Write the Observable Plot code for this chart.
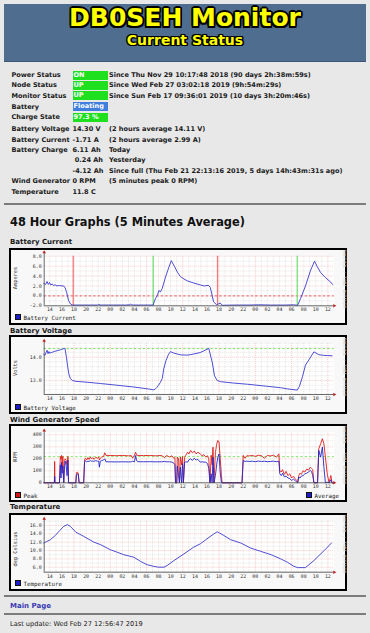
<!DOCTYPE html>
<html><head><meta charset="utf-8">
<script src="https://cdn.jsdelivr.net/npm/d3@7"></script>
<script src="https://cdn.jsdelivr.net/npm/@observablehq/plot@0.6"></script>
<style>
html,body{margin:0;padding:0;}
body{width:370px;height:633px;background:#e8e8e8;position:relative;overflow:hidden;font-family:"DejaVu Sans",sans-serif;color:#1a1a1a;}
.a{position:absolute;white-space:nowrap;}
#banner{left:4px;top:4px;width:362px;height:57px;background:#4f6d8e;border-bottom:1px solid #3d5675;}
.ttl{left:0;width:370px;text-align:center;color:#ffff00;font-weight:bold;line-height:1;}
#t1{top:5px;font-size:25px;text-shadow:-1.5px -1.5px 0 #000,1.5px -1.5px 0 #000,-1.5px 1.5px 0 #000,1.5px 1.5px 0 #000,0 -1.7px 0 #000,0 1.7px 0 #000,-1.7px 0 0 #000,1.7px 0 0 #000;}
#t2{top:33px;font-size:14px;text-shadow:-1.2px -1.2px 0 #000,1.2px -1.2px 0 #000,-1.2px 1.2px 0 #000,1.2px 1.2px 0 #000,0 -1.4px 0 #000,0 1.4px 0 #000,-1.4px 0 0 #000,1.4px 0 0 #000;}
.row{font-size:6.55px;font-weight:bold;height:10px;line-height:10px;}
.badge{height:9px;line-height:9px;width:35px;color:#fff;padding-left:1px;box-sizing:border-box;}
.hr{left:4px;width:362px;height:2px;background:#7c7c7c;}
.lbl{font-size:7px;font-weight:bold;left:10px;line-height:10px;height:10px;}
.box{left:9px;width:338px;border:2px solid #000;box-sizing:border-box;background:#f8f8f8;}
.box svg{position:absolute;left:0;top:0;}
.ytl{font-family:"DejaVu Sans Mono",monospace;font-size:5.3px;color:#333;transform:translate(-50%,-50%) rotate(-90deg);line-height:1;}
.wm{font-family:"DejaVu Sans Mono",monospace;font-size:4.4px;color:#cfcfcf;transform:translate(-50%,-50%) rotate(90deg);line-height:1;}
.leg{font-family:"DejaVu Sans Mono",monospace;font-size:5.8px;color:#222;line-height:6px;}
.sq{display:inline-block;width:4px;height:4px;border:0.5px solid #111;vertical-align:-0.5px;margin-right:2.5px;}
</style></head>
<body>
<div id="banner" class="a"></div>
<div id="t1" class="a ttl">DB0SEH Monitor</div>
<div id="t2" class="a ttl">Current Status</div>
<div id="status"></div>
<div class="a hr" style="top:203px"></div>
<div class="a" style="left:10px;top:215px;font-size:11.4px;font-weight:bold;line-height:14px;color:#111">48 Hour Graphs (5 Minutes Average)</div>
<div id="charts"></div>
<div class="a hr" style="top:595px"></div>
<div class="a" style="left:10px;top:601px;font-size:7px;font-weight:bold;color:#3a3ab4;line-height:10px">Main Page</div>
<div class="a hr" style="top:613px"></div>
<div class="a" style="left:10px;top:619px;font-size:6.6px;line-height:10px;color:#222">Last update: Wed Feb 27 12:56:47 2019</div>
<script>
// ---------- status table ----------
const statusLabels = ["Power Status","Node Status","Monitor Status","Battery","Charge State","Battery Voltage","Battery Current","Battery Charge","","","Wind Generator","Temperature"];
const statusValues = ["ON","UP","UP","Floating","97.3 %","14.30 V","-1.71 A","6.11 Ah","\u00a00.24 Ah","-4.12 Ah","0 RPM","11.8 C"];
const statusNotes = ["Since Thu Nov 29 10:17:48 2018 (90 days 2h:38m:59s)","Since Wed Feb 27 03:02:18 2019 (9h:54m:29s)","Since Sun Feb 17 09:36:01 2019 (10 days 3h:20m:46s)","","","(2 hours average 14.11 V)","(2 hours average 2.99 A)","Today","Yesterday","Since full (Thu Feb 21 22:13:16 2019, 5 days 14h:43m:31s ago)","(5 minutes peak 0 RPM)",""];
const statusBadge = ["#1ee01e","#1ee01e","#1ee01e","#3f7edc","#1ee01e",null,null,null,null,null,null,null];
const rowY = [70,80.3,90.5,101.5,112.3,124,134.7,145,155.3,165.6,176.2,187];

// ---------- chart data (hours since Feb 25 00:00) ----------
const xDomain = [13.07, 61.07];
const hourGrid = d3.range(14, 61);
const hourLabels = d3.range(14, 61, 2);

const currentData = [[13.0,2.5],[13.3,2.3],[13.55,2.9],[13.75,2.3],[13.95,2.7],[14.15,2.2],[14.4,2.4],[14.6,2.1],[14.9,2.2],[15.2,2.0],[15.6,2.1],[16.0,2.0],[16.3,2.0],[16.55,1.6],[16.8,0.6],[17.1,-0.9],[17.4,-1.6],[17.7,-1.85],[19.0,-1.85],[21.0,-1.85],[21.9,-1.85],[22.1,-1.7],[22.3,-1.85],[24.5,-1.85],[26.5,-1.85],[27.2,-1.8],[27.35,-1.6],[27.55,-1.85],[29.5,-1.85],[31.1,-1.85],[31.45,-0.6],[31.8,0.1],[32.05,1.1],[32.3,0.8],[32.6,1.5],[33.15,3.8],[33.7,5.8],[34.1,7.1],[34.6,6.0],[35.1,4.8],[35.6,3.9],[36.2,3.4],[36.8,3.0],[37.8,2.6],[38.9,2.2],[39.6,2.0],[40.0,2.1],[40.3,2.1],[40.55,1.7],[41.1,-1.2],[41.6,-1.8],[41.9,-1.6],[42.2,-1.45],[42.5,-1.9],[44.5,-1.85],[47.0,-1.85],[48.5,-1.8],[50.5,-1.85],[53.0,-1.85],[54.3,-1.8],[55.0,-1.9],[55.5,-0.5],[56.3,2.0],[57.1,5.0],[57.8,7.0],[58.2,6.0],[58.8,4.7],[59.6,3.7],[60.45,2.8],[60.8,2.3]];
const sunset = [17.87, 41.75];
const sunrise = [31.11, 54.94];
const currentRef = [0];

const voltageData = [[13.0,14.12],[13.2,14.08],[13.4,14.22],[13.55,14.3],[13.7,14.15],[13.85,14.24],[14.0,14.17],[14.2,14.2],[14.5,14.22],[14.9,14.26],[15.4,14.29],[15.9,14.33],[16.3,14.37],[16.5,14.38],[16.75,14.0],[16.95,13.6],[17.15,13.28],[17.4,13.08],[17.8,12.99],[18.5,12.96],[20,12.93],[22.4,12.87],[25,12.8],[27.9,12.72],[30.5,12.63],[31.1,12.6],[31.4,12.62],[31.7,12.7],[32.0,12.8],[32.3,12.92],[32.6,13.08],[32.85,13.5],[33.2,13.84],[33.6,14.1],[33.95,14.24],[34.5,14.18],[35.6,14.1],[36.7,14.09],[37.3,14.11],[38.0,14.15],[38.9,14.2],[39.7,14.3],[40.3,14.38],[40.9,13.75],[41.25,13.2],[41.7,13.0],[42.25,12.95],[44.4,12.89],[46.7,12.84],[50.0,12.75],[52.2,12.69],[53.3,12.64],[54.6,12.6],[54.94,12.59],[55.3,12.75],[55.8,13.16],[56.3,13.66],[56.9,13.9],[57.7,14.23],[58.5,14.11],[59.3,14.08],[60.0,14.07],[60.7,14.06]];
const voltageRef = [14.37];

// [time, peak, average]
const windData = [[13.0,0,0],[14.75,0,0],[14.8,178,53],[14.85,0,0],[15.6,0,0],[15.65,100,60],[15.75,220,150],[15.85,200,40],[15.95,228,170],[16.05,120,80],[16.15,220,140],[16.3,0,0],[16.4,186,100],[16.55,200,180],[16.7,186,150],[16.85,150,60],[17.0,220,190],[17.1,0,0],[18.3,0,0],[18.4,85,60],[18.55,90,75],[18.7,80,70],[18.85,0,0],[19.6,0,0],[19.75,192,170],[19.9,205,185],[20.1,190,175],[20.3,210,180],[20.5,195,178],[20.7,215,185],[20.9,200,180],[21.1,210,182],[21.3,195,178],[21.6,212,185],[21.9,205,180],[22.1,215,180],[22.2,190,130],[22.35,205,180],[22.6,215,185],[22.9,220,190],[23.1,250,200],[23.3,228,175],[24,228,175],[25,226,174],[26,228,175],[27,225,174],[27.5,226,175],[27.7,205,180],[28.0,230,175],[28.2,255,228],[28.35,230,185],[28.6,228,176],[29.5,227,175],[30.5,228,176],[31.5,225,175],[32.5,228,175],[33.0,210,178],[33.3,228,175],[33.8,215,175],[34.2,225,173],[34.5,205,165],[34.7,210,150],[34.8,0,0],[35.0,0,0],[35.1,215,140],[35.3,200,60],[35.45,0,0],[35.6,214,130],[35.8,150,0],[35.95,220,160],[36.1,0,0],[36.3,210,170],[36.5,230,175],[36.8,255,172],[37.0,240,190],[37.3,270,200],[37.6,250,186],[37.9,265,205],[38.2,241,190],[38.5,255,195],[38.9,240,172],[39.2,225,175],[39.5,235,172],[39.8,214,172],[40.1,225,160],[40.3,200,120],[40.5,0,0],[40.7,230,75],[40.85,150,0],[41.0,297,214],[41.15,0,0],[41.4,250,60],[41.6,320,150],[41.8,353,214],[42.0,340,240],[42.2,200,80],[42.4,60,0],[42.5,0,0],[45.8,0,0],[46.0,228,186],[46.3,205,178],[46.6,226,180],[47,224,178],[47.5,228,180],[48,220,176],[48.5,230,181],[49,226,178],[49.5,205,180],[50,228,176],[50.5,224,178],[51,230,180],[51.5,214,176],[51.9,241,180],[52.05,103,75],[52.3,90,60],[52.5,110,80],[52.8,70,50],[53.1,95,55],[53.4,60,40],[53.7,75,35],[54.0,40,20],[54.3,55,30],[54.6,33,19],[54.85,20,5],[55.0,0,0],[55.2,61,47],[55.4,80,40],[55.6,70,55],[55.9,100,60],[56.2,90,75],[56.5,115,80],[56.8,105,90],[57.1,130,103],[57.3,120,95],[57.5,110,60],[57.7,0,0],[58.3,0,0],[58.5,283,270],[58.8,325,214],[59.1,367,297],[59.35,325,130],[59.6,214,0],[59.9,75,5],[60.2,0,0],[60.5,61,25],[60.7,0,0],[61.0,0,0]];
const windRef = [218];

const tempData = [[13.0,11.8],[14.1,12.6],[14.9,13.6],[15.65,14.8],[16.3,15.8],[16.9,16.2],[17.4,15.8],[18.3,14.4],[19.6,13.4],[21.3,12.0],[22.4,11.4],[24.0,10.2],[26.25,9.0],[27.9,8.4],[29.0,7.4],[30.1,6.6],[31.2,6.2],[32.0,6.0],[32.9,6.0],[33.4,6.4],[34.55,7.6],[36.2,9.2],[37.8,10.8],[38.9,11.6],[40.0,12.8],[41.15,14.0],[41.7,14.5],[42.8,13.6],[43.9,12.6],[45.6,11.8],[47.2,10.6],[48.9,9.8],[50.6,9.0],[52.2,8.0],[53.3,7.2],[54.4,6.2],[55.0,5.9],[56.3,5.9],[57.7,7.6],[59.4,10.0],[60.6,11.8]];

const currentTicks = [-2,0,2,4,6,8];
const voltageTicks = [13,14];
const windTicks = [0,100,200,300,400];
const tempTicks = [6,8,10,12,14,16];

// ---------- status rendering ----------
const st = document.getElementById("status");
statusLabels.forEach((lab, i) => {
  const y = rowY[i];
  const mk = (x, txt, extra) => { const d = document.createElement("div"); d.className = "a row"; d.style.left = x + "px"; d.style.top = y + "px"; d.textContent = txt; if (extra) Object.assign(d.style, extra); st.appendChild(d); return d; };
  if (lab) mk(11.5, lab);
  if (statusBadge[i]) {
    const b = mk(72.5, statusValues[i], {background: statusBadge[i], top: (y + 0.5) + "px"});
    b.classList.add("badge");
  } else mk(72.5, statusValues[i]);
  if (statusNotes[i]) mk(109, statusNotes[i]);
});

// ---------- charts ----------
const BLUE = "#3a3ad0", RED = "#e01c1c";
const fmtHour = h => String(h % 24).padStart(2, "0");
const chartsDiv = document.getElementById("charts");

function chart(cfg) {
  const {top, height, title, titleY, yTitle, yDomain, yRange, yBottom, yTop, yArrow, yMajor, yMinor, yFmt, marks, legend} = cfg;
  const lab = document.createElement("div");
  lab.className = "a lbl"; lab.style.top = (titleY - 5) + "px"; lab.textContent = title;
  chartsDiv.appendChild(lab);
  const box = document.createElement("div");
  box.className = "a box"; box.style.top = top + "px"; box.style.height = height + "px";
  chartsDiv.appendChild(box);
  const inner = height - 4;
  const gridStyle = {strokeWidth: 0.55, strokeDasharray: "1,1"};
  const svg = Plot.plot({
    width: 334, height: inner, margin: 0,
    x: {domain: xDomain, range: [32.7, 322.8], axis: null},
    y: {domain: yDomain, range: yRange, axis: null},
    style: {background: "transparent", overflow: "visible"},
    marks: [
      Plot.rect([0], {x1: xDomain[0], x2: xDomain[1], y1: yBottom, y2: yTop, fill: "#ffffff"}),
      Plot.ruleY(yMinor, {x1: xDomain[0], x2: xDomain[1], stroke: "#cfcfcf", ...gridStyle}),
      Plot.ruleX(hourGrid.filter(h => h % 6 !== 0), {y1: yBottom, y2: yTop, stroke: "#cfcfcf", ...gridStyle}),
      Plot.ruleY(yMajor.filter(v => v !== yBottom), {x1: xDomain[0], x2: xDomain[1], stroke: "#f0a0a0", ...gridStyle}),
      Plot.ruleX(hourGrid.filter(h => h % 6 === 0), {y1: yBottom, y2: yTop, stroke: "#f0a0a0", ...gridStyle}),
      ...marks,
      Plot.ruleY([yBottom], {x1: xDomain[0], x2: xDomain[1], stroke: "#444", strokeWidth: 0.8}),
      Plot.ruleX([xDomain[0]], {y1: yBottom, y2: yArrow, stroke: "#444", strokeWidth: 0.8}),
      Plot.dot([0], {x: xDomain[0], y: yArrow, symbol: "triangle", r: 1.3, fill: "#c02020", stroke: null}),
      Plot.dot([0], {x: xDomain[1], y: yBottom, symbol: "triangle", rotate: 90, r: 1.3, fill: "#c02020", stroke: null}),
      Plot.text(hourLabels, {x: d => d, y: yBottom, dy: 4, text: fmtHour, fontSize: 4.9, fontFamily: "DejaVu Sans Mono", fill: "#333"}),
      Plot.text(yMajor, {x: xDomain[0], y: d => d, dx: -2.6, textAnchor: "end", text: yFmt, fontSize: 4.9, fontFamily: "DejaVu Sans Mono", fill: "#333"})
    ]
  });
  box.appendChild(svg);
  const yt = document.createElement("div");
  yt.className = "a ytl"; yt.style.left = "5px"; yt.style.top = cfg.yTitleY + "px"; yt.textContent = yTitle;
  box.appendChild(yt);
  const wm = document.createElement("div");
  wm.className = "a wm"; wm.style.left = "332.5px"; wm.style.top = (inner / 2 - 8) + "px"; wm.textContent = "RRDTOOL / TOBI OETIKER";
  box.appendChild(wm);
  legend.forEach(l => {
    const d = document.createElement("div");
    d.className = "a leg"; d.style.left = l.x + "px"; d.style.top = (cfg.legendY - 3) + "px";
    d.innerHTML = `<span class="sq" style="background:${l.color}"></span>${l.text}`;
    box.appendChild(d);
  });
}

chart({
  top: 248, height: 77, title: "Battery Current", titleY: 242.3, yTitle: "Amperes", yTitleY: 28,
  yDomain: [-2, 8], yRange: [55.3, 5.7], yBottom: -2, yTop: 8, yArrow: 8.8,
  yMajor: currentTicks, yMinor: [-1, 1, 3, 5, 7], yFmt: d => d.toFixed(1),
  legendY: 67, legend: [{x: 4, color: "#1c1cc8", text: "Battery Current"}],
  marks: [
    Plot.ruleY(currentRef, {x1: xDomain[0], x2: xDomain[1], stroke: "#e04040", strokeWidth: 0.8, strokeDasharray: "2.5,2"}),
    Plot.ruleX(sunset, {y1: -2, y2: 8, stroke: "#f07a7a", strokeWidth: 1.3}),
    Plot.ruleX(sunrise, {y1: -2, y2: 8, stroke: "#7ae07a", strokeWidth: 1.3}),
    Plot.line(currentData, {x: d => d[0], y: d => d[1], stroke: BLUE, strokeWidth: 0.9})
  ]
});

chart({
  top: 335, height: 79, title: "Battery Voltage", titleY: 330.7, yTitle: "Volts", yTitleY: 30.5,
  yDomain: [13, 14], yRange: [43, 19.7], yBottom: 12.4, yTop: 14.6, yArrow: 14.71,
  yMajor: voltageTicks, yMinor: [12.6, 12.8, 13.2, 13.4, 13.6, 13.8, 14.2, 14.4, 14.6], yFmt: d => d.toFixed(1),
  legendY: 70.3, legend: [{x: 4, color: "#1c1cc8", text: "Battery Voltage"}],
  marks: [
    Plot.ruleY(voltageRef, {x1: xDomain[0], x2: xDomain[1], stroke: "#66dd44", strokeWidth: 0.8, strokeDasharray: "2.5,2"}),
    Plot.line(voltageData, {x: d => d[0], y: d => d[1], stroke: BLUE, strokeWidth: 0.9})
  ]
});

chart({
  top: 424, height: 78, title: "Wind Generator Speed", titleY: 419.7, yTitle: "RPM", yTitleY: 30.7,
  yDomain: [0, 400], yRange: [56.3, 8.3], yBottom: 0, yTop: 420, yArrow: 436,
  yMajor: windTicks, yMinor: [50, 150, 250, 350], yFmt: d => String(d),
  legendY: 69, legend: [{x: 4, color: "#d01818", text: "Peak"}, {x: 295, color: "#1c1cc8", text: "Average"}],
  marks: [
    Plot.ruleY(windRef, {x1: xDomain[0], x2: xDomain[1], stroke: "#66dd44", strokeWidth: 0.8, strokeDasharray: "2.5,2"}),
    Plot.line(windData, {x: d => d[0], y: d => d[1], stroke: RED, strokeWidth: 0.9}),
    Plot.line(windData, {x: d => d[0], y: d => d[2], stroke: "#2424c8", strokeWidth: 0.9})
  ]
});

chart({
  top: 513, height: 78, title: "Temperature", titleY: 507.3, yTitle: "deg Celsius", yTitleY: 34,
  yDomain: [6, 16], yRange: [51.7, 10], yBottom: 4.8, yTop: 17, yArrow: 17.6,
  yMajor: tempTicks, yMinor: [5, 7, 9, 11, 13, 15, 17], yFmt: d => d.toFixed(1),
  legendY: 68.3, legend: [{x: 4, color: "#1c1cc8", text: "Temperature"}],
  marks: [
    Plot.line(tempData, {x: d => d[0], y: d => d[1], stroke: BLUE, strokeWidth: 0.9})
  ]
});
</script>
</body></html>
